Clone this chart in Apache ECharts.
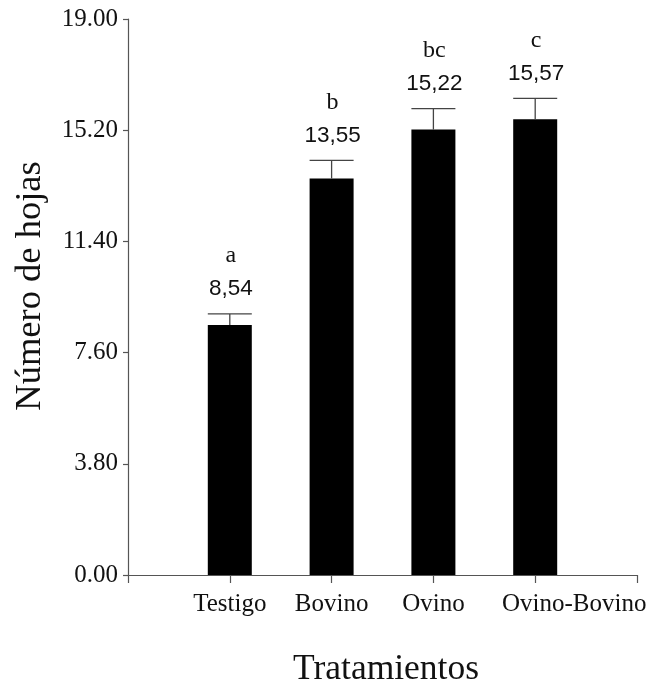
<!DOCTYPE html>
<html>
<head>
<meta charset="utf-8">
<script src="https://cdn.jsdelivr.net/npm/echarts@6/dist/echarts.min.js"></script>
<style>html,body{margin:0;padding:0;background:#fff;}#c{width:651px;height:685px;}</style>
</head>
<body>
<div id="c"></div>
<script>
var categories = ['Testigo', 'Bovino', 'Ovino', 'Ovino-Bovino'];
var means = [8.54, 13.55, 15.22, 15.57];
var errors = [0.38, 0.62, 0.72, 0.72];
var letters = ['a', 'b', 'bc', 'c'];
var yTicks = { min: 0, max: 19, interval: 3.8 };

var SERIF = '"Liberation Serif", "Times New Roman", serif';
var SANS = '"Liberation Sans", Arial, sans-serif';
var BAR_W = 44;

var barData = means.map(function (v, i) { return [i + 1, v]; });
var errData = means.map(function (v, i) { return [i + 1, v, errors[i], i]; });

var chart = echarts.init(document.getElementById('c'), null, { renderer: 'canvas' });
chart.setOption({
  animation: false,
  backgroundColor: '#fff',
  grid: { left: 128, right: 14, top: 19, bottom: 110, containLabel: false, outerBoundsMode: 'none' },
  xAxis: {
    type: 'value', min: 0, max: 5, interval: 1,
    splitLine: { show: false },
    axisLine: { show: true, lineStyle: { color: '#555', width: 1.2 } },
    axisTick: { show: true, inside: false, length: 8, lineStyle: { color: '#555', width: 1.2 } },
    axisLabel: {
      margin: 17,
      color: '#111', fontFamily: SERIF, fontSize: 25,
      showMinLabel: true, showMaxLabel: true,
      formatter: function (v) {
        var i = Math.round(v) - 1;
        if (i < 0 || i >= categories.length) return '';
        if (i === 3) return '{s|' + categories[i] + '}';
        return categories[i];
      },
      rich: { s: { fontFamily: SERIF, fontSize: 25, color: '#111', padding: [0, 0, 0, 78] } }
    }
  },
  yAxis: {
    type: 'value', min: yTicks.min, max: yTicks.max, interval: yTicks.interval,
    splitLine: { show: false },
    axisLine: { show: true, lineStyle: { color: '#555', width: 1.2 } },
    axisTick: { show: true, inside: false, length: 5, lineStyle: { color: '#555', width: 1.2 } },
    axisLabel: {
      margin: 10, color: '#111', fontFamily: SERIF, fontSize: 25,
      formatter: function (v) { return v.toFixed(2); }
    }
  },
  graphic: [{
    type: 'text', x: 30, y: 286, rotation: Math.PI / 2,
    style: { text: 'Número de hojas', fontFamily: SERIF, fontSize: 36.5, fill: '#111', align: 'center', verticalAlign: 'middle' }
  }, {
    type: 'text', left: 293, top: 652,
    style: { text: 'Tratamientos', fontFamily: SERIF, fontSize: 35.5, fill: '#111' }
  }],
  series: [{
    type: 'bar', data: barData, barWidth: BAR_W,
    itemStyle: { color: '#000' }, z: 2
  }, {
    type: 'custom', data: errData, z: 3,
    renderItem: function (params, api) {
      var x = api.value(0), v = api.value(1), e = api.value(2), idx = api.value(3);
      var pTop = api.coord([x, v]);
      var pCap = api.coord([x, v + e]);
      var half = BAR_W / 2;
      var lineStyle = { stroke: '#444', lineWidth: 1.3 };
      return {
        type: 'group', children: [
          { type: 'line', shape: { x1: pTop[0], y1: pTop[1], x2: pCap[0], y2: pCap[1] }, style: lineStyle },
          { type: 'line', shape: { x1: pCap[0] - half, y1: pCap[1], x2: pCap[0] + half, y2: pCap[1] }, style: lineStyle },
          { type: 'text', style: { x: pCap[0] + 1, y: pCap[1] - 25, text: means[idx].toFixed(2).replace('.', ','), fontFamily: SANS, fontSize: 22.5, fill: '#111', align: 'center', verticalAlign: 'middle' } },
          { type: 'text', style: { x: pCap[0] + 1, y: pCap[1] - 58, text: letters[idx], fontFamily: SERIF, fontSize: 24, fill: '#111', align: 'center', verticalAlign: 'middle' } }
        ]
      };
    }
  }]
});
</script>
</body>
</html>
